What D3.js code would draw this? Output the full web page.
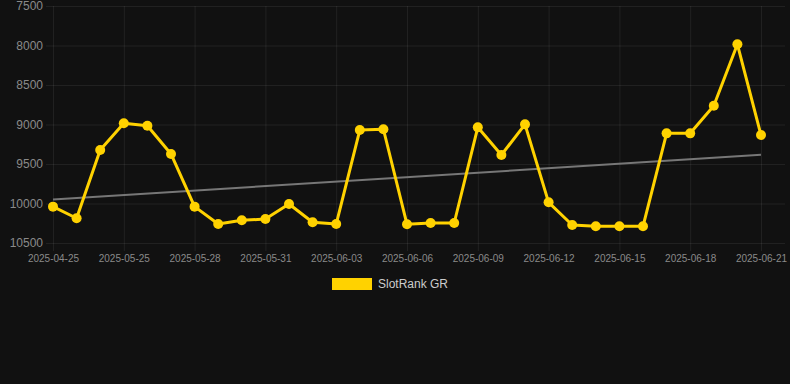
<!DOCTYPE html>
<html>
<head>
<meta charset="utf-8">
<script src="https://cdn.jsdelivr.net/npm/d3@7"></script>
<style>
  html, body { margin: 0; padding: 0; background: #111111; }
  svg { display: block; }
</style>
</head>
<body>
<div id="viz"></div>
<script>
  // chart data
  var dates = ['2025-04-25', '2025-05-23', '2025-05-24', '2025-05-25', '2025-05-26', '2025-05-27',
    '2025-05-28', '2025-05-29', '2025-05-30', '2025-05-31', '2025-06-01', '2025-06-02',
    '2025-06-03', '2025-06-04', '2025-06-05', '2025-06-06', '2025-06-07', '2025-06-08',
    '2025-06-09', '2025-06-10', '2025-06-11', '2025-06-12', '2025-06-13', '2025-06-14',
    '2025-06-15', '2025-06-16', '2025-06-17', '2025-06-18', '2025-06-19', '2025-06-20',
    '2025-06-21'];
  var ranks = [10040, 10187, 9323, 8985, 9015, 9373, 10040, 10260, 10213, 10196, 10006, 10238,
    10260, 9070, 9060, 10263, 10247, 10247, 9036, 9386, 8998, 9985, 10272, 10289,
    10289, 10289, 9112, 9112, 8762, 7985, 9133];
  var yTicks = [7500, 8000, 8500, 9000, 9500, 10000, 10500];
  var seriesName = 'SlotRank GR';

  (function () {
    'use strict';

    var width = 790, height = 384;
    var padL = 53, padR = 761, padT = 6, padB = 243;

    var svg = d3.select('#viz')
      .append('svg')
      .attr('width', width)
      .attr('height', height)
      .style('background', '#111111');

    var x = d3.scalePoint()
      .domain(dates)
      .range([padL, padR]);

    var y = d3.scaleLinear()
      .domain([7500, 10500])
      .range([padT, padB]);

    // horizontal grid + y labels
    var yAxis = d3.axisLeft(y)
      .tickValues(yTicks)
      .tickSize(-(785 - 46))
      .tickPadding(3)
      .tickFormat(d3.format('d'));

    var gy = svg.append('g')
      .attr('transform', 'translate(46,0)')
      .call(yAxis);
    gy.select('.domain').remove();
    gy.selectAll('line').attr('stroke', 'rgba(255,255,255,0.07)');
    gy.selectAll('text')
      .attr('fill', '#8a8a8a')
      .style('font', '12px "Liberation Sans", Arial, sans-serif');

    // vertical grid + x labels, every third date
    var shown = dates.filter(function(d, i) { return i % 3 === 0; });
    var xAxis = d3.axisBottom(x)
      .tickValues(shown)
      .tickSize(0)
      .tickPadding(12);

    var gx = svg.append('g')
      .attr('transform', 'translate(0,' + padB + ')')
      .call(xAxis);
    gx.select('.domain').remove();
    gx.selectAll('line')
      .attr('stroke', 'rgba(255,255,255,0.07)')
      .attr('y1', -(padB - padT))
      .attr('y2', 8);
    gx.selectAll('text')
      .attr('fill', '#8a8a8a')
      .style('font', '10px "Liberation Sans", Arial, sans-serif');

    // trend line (least squares over the series)
    var n = ranks.length;
    var mx = d3.mean(ranks, function(d, i) { return i; });
    var my = d3.mean(ranks);
    var sxy = d3.sum(ranks, function(d, i) { return (i - mx) * (d - my); });
    var sxx = d3.sum(ranks, function(d, i) { return (i - mx) * (i - mx); });
    var slope = sxy / sxx;
    var icpt = my - slope * mx;

    svg.append('line')
      .attr('x1', x(dates[0]))
      .attr('y1', y(icpt))
      .attr('x2', x(dates[n - 1]))
      .attr('y2', y(icpt + slope * (n - 1)))
      .attr('stroke', '#777777')
      .attr('stroke-width', 2);

    var line = d3.line()
      .x(function(d, i) { return x(dates[i]); })
      .y(function(d) { return y(d); });

    svg.append('path')
      .datum(ranks)
      .attr('d', line)
      .attr('fill', 'none')
      .attr('stroke', '#ffd200')
      .attr('stroke-width', 3)
      .attr('stroke-linejoin', 'round');

    svg.selectAll('circle.pt')
      .data(ranks)
      .enter()
      .append('circle')
      .attr('class', 'pt')
      .attr('cx', function(d, i) { return x(dates[i]); })
      .attr('cy', function(d) { return y(d); })
      .attr('r', 5)
      .attr('fill', '#ffd200');

    // legend
    var lg = svg.append('g').attr('transform', 'translate(332,278)');
    lg.append('rect')
      .attr('width', 40)
      .attr('height', 12)
      .attr('fill', '#ffd200');
    lg.append('text')
      .attr('x', 46)
      .attr('y', 6)
      .attr('dy', '0.35em')
      .attr('fill', '#cccccc')
      .style('font', '12px "Liberation Sans", Arial, sans-serif')
      .text(seriesName);
  }());
</script>
</body>
</html>
